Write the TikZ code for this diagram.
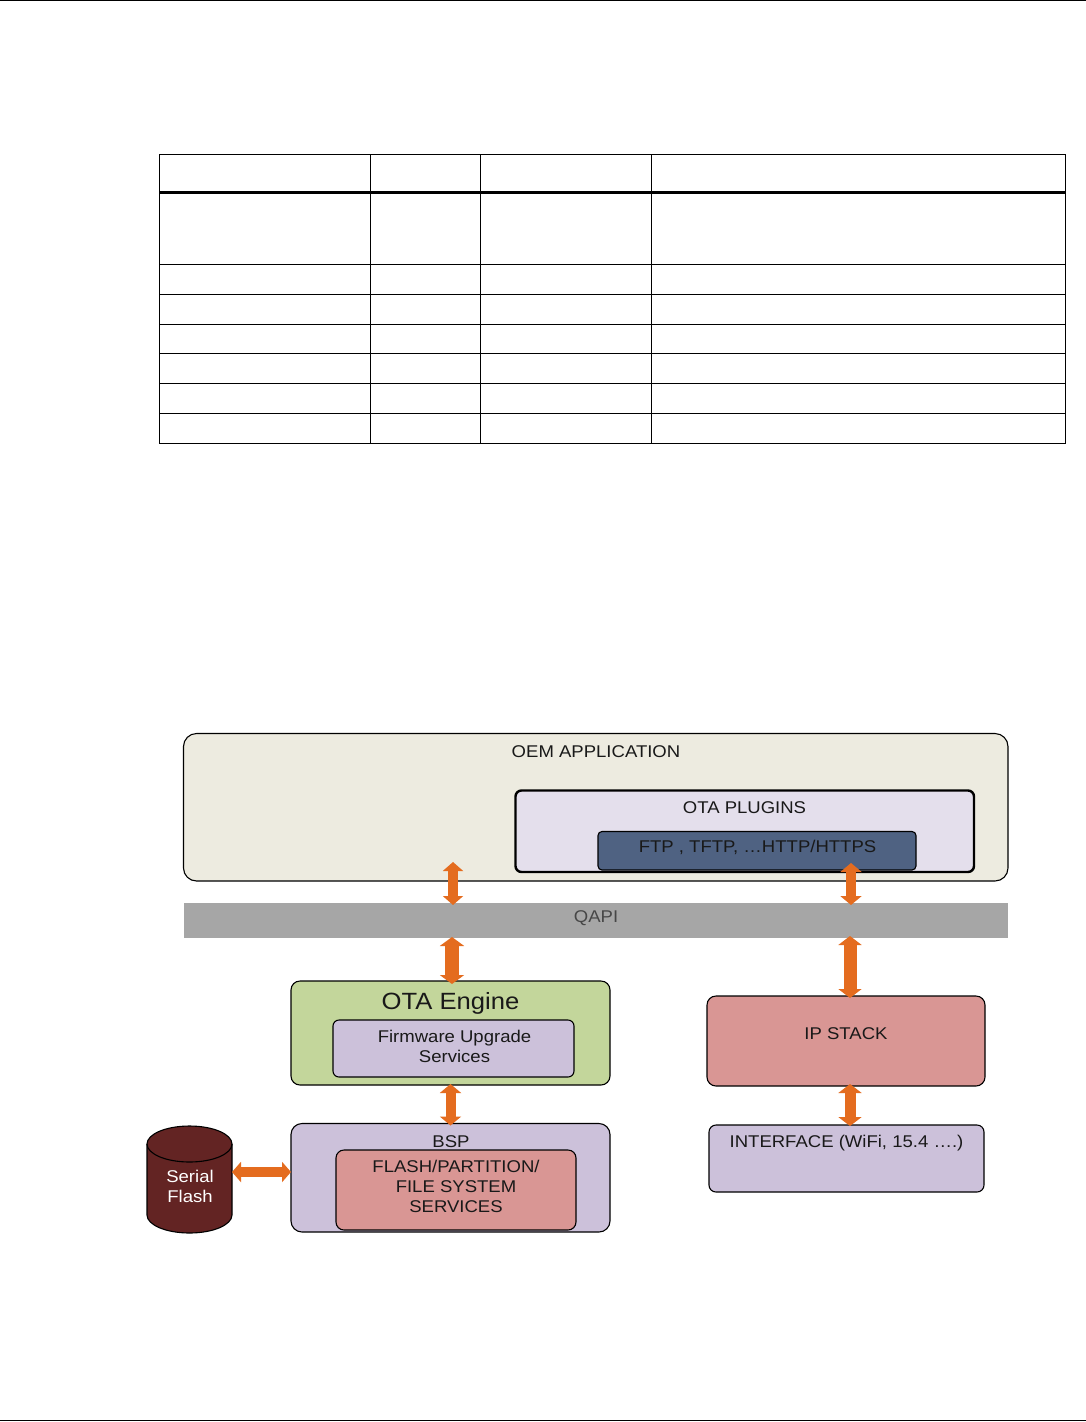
\documentclass[tikz,border=0pt]{standalone}
\usepackage{fontspec}
\setmainfont[FakeStretch=1.09]{Liberation Sans}
\usetikzlibrary{arrows.meta,calc}
\definecolor{oemfill}{HTML}{EDEBE0}
\definecolor{plugfill}{HTML}{E4DFEC}
\definecolor{ftpfill}{HTML}{4F6282}
\definecolor{qapifill}{HTML}{A6A6A6}
\definecolor{greenfill}{HTML}{C3D69B}
\definecolor{lilacfill}{HTML}{CCC1DA}
\definecolor{rosefill}{HTML}{D99694}
\definecolor{dbfill}{HTML}{632423}
\definecolor{arrowfill}{HTML}{E46C1F}
\newcommand{\areabox}[6]{%
  \pgfmathsetmacro{\bcx}{(#3+#5)/2}%
  \pgfmathsetmacro{\bcy}{(#4+#6)/2}%
  \pgfmathsetmacro{\bw}{#5-#3}%
  \pgfmathsetmacro{\bh}{#6-#4}%
  \node[#2,minimum width=\bw pt,minimum height=\bh pt] (#1) at (\bcx,\bcy) {};}
\tikzset{
  x=1pt,y=-1pt,
  areabox/.style={draw=black,line width=1.1pt,inner sep=0pt,outer sep=0pt,rounded corners=#1},
  areabox/.default=7pt,
  lab/.style={inner sep=0pt,font=\fontsize{17}{20}\selectfont,align=center,text=black!90},
  oarrow/.style 2 args={line width=#1pt,color=arrowfill,
    arrows={Triangle[width=#2pt,length=9pt]-Triangle[width=#2pt,length=9pt]}},
  tablerule/.style={line width=1pt,draw=black},
}
\begin{document}
\begin{tikzpicture}
\useasboundingbox (0,0) rectangle (1086,1422);
\fill[white] (0,0) rectangle (1086,1422);
% page rules
\draw[line width=1pt] (0,0.5) -- (1086,0.5);
\draw[line width=1pt] (0,1420.5) -- (1086,1420.5);
% table
\draw[tablerule] (159.5,154.5) rectangle (1065.5,443.5);
\foreach \tx in {370.5,480.5,651.5} \draw[tablerule] (\tx,154.5) -- (\tx,443.5);
\foreach \ty in {264.5,294.5,324.5,353.5,383.5,413.5} \draw[tablerule] (159.5,\ty) -- (1065.5,\ty);
\draw[line width=3pt] (159.5,192) -- (1065.5,192);
% boxes
\areabox{oem}{areabox=13pt,fill=oemfill}{183.5}{733.5}{1008}{881}
\areabox{plugins}{areabox=6pt,fill=plugfill,line width=2.4pt}{515.5}{790.5}{974}{872}
\areabox{ftp}{areabox=4pt,fill=ftpfill}{598}{831.5}{916}{870}
\areabox{qapi}{fill=qapifill,inner sep=0pt,outer sep=0pt}{184}{903}{1008}{938}
\areabox{engine}{areabox=9pt,fill=greenfill}{291}{981}{610}{1085}
\areabox{fwup}{areabox=6pt,fill=lilacfill}{333}{1020}{574}{1077}
\areabox{bsp}{areabox=11pt,fill=lilacfill}{291}{1123.5}{610}{1232}
\areabox{flash}{areabox=8pt,fill=rosefill}{336}{1150}{576}{1230}
\areabox{ipstack}{areabox=9pt,fill=rosefill}{707}{996}{985}{1086}
\areabox{iface}{areabox=7pt,fill=lilacfill}{709}{1125}{984}{1192}
% serial flash cylinder
\draw[line width=1.1pt,fill=dbfill] (147,1144) -- (147,1215) arc[start angle=180,end angle=360,x radius=42.5,y radius=-18] -- (232,1144) arc[start angle=0,end angle=180,x radius=42.5,y radius=-18] -- cycle;
\draw[line width=1.1pt] (147,1144) arc[start angle=180,end angle=0,x radius=42.5,y radius=18];
\coordinate (cyl) at (232,1172);
% labels
\node[lab] (loem) at (596,752) {OEM APPLICATION};
\node[lab] (lplug) at (744.5,808) {OTA PLUGINS};
\node[lab] (lftp) at (757.5,847.5) {FTP , TFTP, …HTTP/HTTPS};
\node[lab,text=black!72] (lqapi) at (596,918) {QAPI};
\node[lab,font=\fontsize{23.5}{26}\selectfont] (lengine) at (450.5,1003.5) {OTA Engine};
\node[lab] (lfw) at (454.5,1046) {Firmware Upgrade\\Services};
\node[lab] (lbsp) at (451,1142) {BSP};
\node[lab] (lflash) at (456,1186) {FLASH/PARTITION/\\FILE SYSTEM\\SERVICES};
\node[lab] (lip) at (846,1034) {IP STACK};
\node[lab] (lif) at (846.5,1143) {INTERFACE (WiFi, 15.4 ….)};
\node[lab,text=white] (lcyl) at (190,1186.5) {Serial\\Flash};
% arrows
\coordinate (xa) at (453,0);
\coordinate (xb) at (452,0);
\coordinate (xc) at (851,0);
\coordinate (xd) at (850,0);
\coordinate (xe) at (450.5,0);
\draw[oarrow={10}{20}] ($(oem.south -| xa)+(0,-19)$) -- ($(qapi.north -| xa)+(0,2)$);
\draw[oarrow={14}{24}] ($(qapi.south -| xb)+(0,-1)$) -- ($(engine.north -| xb)+(0,3)$);
\draw[oarrow={10}{21}] ($(oem.south -| xc)+(0,-18)$) -- ($(qapi.north -| xc)+(0,2)$);
\draw[oarrow={13}{23}] ($(qapi.south -| xd)+(0,-2)$) -- ($(ipstack.north -| xd)+(0,2)$);
\draw[oarrow={10}{21}] ($(engine.south -| xe)+(0,-1)$) -- ($(bsp.north -| xe)+(0,2)$);
\draw[oarrow={11}{23}] ($(ipstack.south -| xd)+(0,-2)$) -- ($(iface.north -| xd)+(0,1)$);
\draw[oarrow={10}{20}] (cyl) -- (cyl -| bsp.west);
\end{tikzpicture}
\end{document}
